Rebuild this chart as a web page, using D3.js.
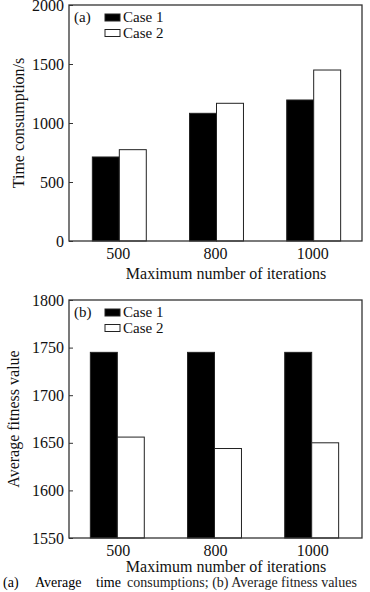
<!DOCTYPE html>
<html>
<head>
<meta charset="utf-8">
<script src="https://cdn.jsdelivr.net/npm/d3@7"></script>
<style>
  body { margin: 0; background: #fff; }
  svg { display: block; font-family: "Liberation Serif", "DejaVu Serif", serif; }
</style>
</head>
<body>
<svg width="370" height="592"></svg>
<script>
// Data
const iterations = ["500", "800", "1000"];
const seriesNames = ["Case 1", "Case 2"];
const timeCase1 = [712, 1082, 1195];
const timeCase2 = [774, 1167, 1449];
const fitCase1 = [1745, 1745, 1745];
const fitCase2 = [1656, 1644, 1650];
const timeTicks = [0, 500, 1000, 1500, 2000];
const fitTicks = [1550, 1600, 1650, 1700, 1750, 1800];

const svg = d3.select("svg");
const left = 69, right = 362;

drawPanel({
    top: 5, bottom: 241, domain: [0, 2000], ticks: timeTicks,
    s1: timeCase1, s2: timeCase2, tag: "(a)",
    ylabel: "Time consumption/s", ylabelX: 18, shift: 1, titleY: 279
});
drawPanel({
    top: 300, bottom: 538, domain: [1550, 1800], ticks: fitTicks,
    s1: fitCase1, s2: fitCase2, tag: "(b)",
    ylabel: "Average fitness value", ylabelX: 13, shift: -1, titleY: 572
});

// Caption
const capParts = [
    {x: 3, t: "(a)", c: "#000"},
    {x: 35, t: "Average", c: "#000"},
    {x: 96, t: "time", c: "#000"},
    {x: 127, t: "consumptions; (b) Average fitness values", c: "#222"}
];
svg.append("g").selectAll("text")
    .data(capParts)
    .enter().append("text")
    .attr("x", d => d.x).attr("y", 587)
    .style("font-size", "14px")
    .style("fill", d => d.c)
    .text(d => d.t);

/////////////HELPERS//////////////////

function drawPanel(p) {
    const g = svg.append("g");
    const x = d3.scaleBand()
        .domain(iterations)
        .range([left, right])
        .paddingInner(0.445)
        .paddingOuter(0.23);
    const y = d3.scaleLinear().domain(p.domain).range([p.bottom, p.top]);
    const bw = x.bandwidth() / 2;

    const rows = iterations.map((k, i) => ({k, v: [p.s1[i], p.s2[i]]}));
    const grp = g.selectAll(".grp").data(rows).enter().append("g")
        .attr("transform", d => `translate(${x(d.k) + p.shift},0)`);
    grp.selectAll("rect")
        .data(d => d.v)
        .enter().append("rect")
        .attr("x", (d, j) => j * bw)
        .attr("y", d => y(d))
        .attr("width", bw)
        .attr("height", d => p.bottom - y(d))
        .style("fill", (d, j) => j === 0 ? "#000" : "#fff")
        .style("stroke", "#222")
        .style("stroke-width", 1);

    // y axis
    const ya = g.append("g")
        .attr("transform", `translate(${left},0)`)
        .call(d3.axisLeft(y).tickValues(p.ticks).tickSize(-4).tickPadding(5).tickFormat(d3.format("d")));
    ya.select(".domain").remove();
    ya.selectAll("line").style("stroke", "#333");
    ya.selectAll("text")
        .style("font-size", "16px")
        .style("font-family", "Liberation Serif")
        .style("fill", "#111");

    // x axis labels
    const xa = g.append("g")
        .attr("transform", `translate(0,${p.bottom})`)
        .call(d3.axisBottom(x).tickSize(0).tickPadding(7));
    xa.select(".domain").remove();
    xa.selectAll("text")
        .style("font-size", "16px")
        .style("font-family", "Liberation Serif")
        .style("fill", "#111");

    // frame
    g.append("rect")
        .attr("x", left).attr("y", p.top)
        .attr("width", right - left).attr("height", p.bottom - p.top)
        .style("fill", "none").style("stroke", "#333").style("stroke-width", 1.3);

    g.append("text")
        .attr("x", 226).attr("y", p.titleY)
        .attr("text-anchor", "middle")
        .style("font-size", "16px").style("fill", "#111")
        .text("Maximum number of iterations");

    g.append("text")
        .attr("transform", `translate(${p.ylabelX},${(p.top + p.bottom) / 2}) rotate(-90)`)
        .attr("text-anchor", "middle")
        .attr("dy", "0.35em")
        .style("font-size", "16px").style("fill", "#111")
        .text(p.ylabel);

    // tag and legend
    g.append("text")
        .attr("x", 74).attr("y", p.top + 17)
        .style("font-size", "15px").style("fill", "#111")
        .text(p.tag);
    const lg = g.selectAll(".lg").data(seriesNames).enter().append("g")
        .attr("transform", (d, i) => `translate(105,${p.top + 9 + i * 15.5})`);
    lg.append("rect")
        .attr("width", 15).attr("height", 7)
        .style("fill", (d, i) => i === 0 ? "#000" : "#fff")
        .style("stroke", "#222");
    lg.append("text")
        .attr("x", 18).attr("y", 8)
        .style("font-size", "15px").style("fill", "#111")
        .text(d => d);
}
</script>
</body>
</html>
